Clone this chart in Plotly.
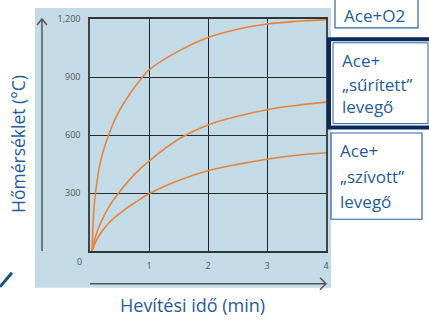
import plotly.graph_objects as go

# ---- data ----
t_o2 = [0.035, 0.065, 0.093, 0.18, 0.32, 0.49, 0.89, 1.0, 1.5, 2.0, 2.5, 3.0, 3.5, 4.0]
v_o2 = [0, 210, 300, 466, 603, 722, 900, 937, 1034, 1104, 1147, 1174, 1188, 1197]

t_comp = [0.035, 0.1, 0.2, 0.32, 0.5, 0.75, 1.0, 1.5, 2.0, 2.5, 3.0, 3.5, 4.0]
v_comp = [0, 82, 158, 228, 305, 395, 465, 578, 652, 697, 731, 753, 770]

t_suck = [0.035, 0.1, 0.18, 0.3, 0.43, 0.6, 0.77, 1.0, 1.5, 2.0, 2.5, 3.0, 3.5, 4.0]
v_suck = [0, 50, 92, 138, 176, 217, 252, 296, 365, 415, 448, 475, 495, 508]

x_ticks = [1, 2, 3, 4]
x_ticklabels = ["1", "2", "3", "4"]
y_ticks = [300, 600, 900, 1200]
y_ticklabels = ["300", "600", "900", "1,200"]

series_names = ["Ace+O2", "Ace+ „sűrített” levegő", "Ace+ „szívott” levegő"]

W, H = 429, 322
L, R, T, B = 90, 103, 17, 71
PW, PH = W - L - R, H - T - B


def X(px):
    return (px - L) / PW


def Y(py):
    return (H - B - py) / PH


ORANGE = "#e8843a"
BLUE_TXT = "#1f5c9c"
FONT = "Open Sans"

fig = go.Figure()
for t, v, n in zip([t_o2, t_comp, t_suck], [v_o2, v_comp, v_suck], series_names):
    fig.add_trace(go.Scatter(x=t, y=v, mode="lines", name=n,
                             line=dict(color=ORANGE, width=1.6, shape="spline", smoothing=1.0),
                             showlegend=False, hoverinfo="skip"))

shapes = []
# light blue panel
shapes.append(dict(type="rect", xref="paper", yref="paper", layer="below",
                   x0=X(35), x1=X(331), y0=Y(288), y1=Y(6),
                   fillcolor="#c3dbe7", line=dict(width=0)))
# y arrow
shapes.append(dict(type="line", xref="paper", yref="paper", x0=X(42), x1=X(42), y0=Y(251), y1=Y(17),
                   line=dict(color="#555", width=1.5)))
shapes.append(dict(type="path", xref="paper", yref="paper",
                   path=f"M {X(37)},{Y(23)} L {X(42)},{Y(17)} L {X(47)},{Y(23)}",
                   line=dict(color="#555", width=1.5)))
# x arrow
shapes.append(dict(type="line", xref="paper", yref="paper", x0=X(90), x1=X(326), y0=Y(284), y1=Y(284),
                   line=dict(color="#555", width=1.5)))
shapes.append(dict(type="path", xref="paper", yref="paper",
                   path=f"M {X(320)},{Y(278)} L {X(326)},{Y(284)} L {X(320)},{Y(290)}",
                   line=dict(color="#555", width=1.5)))
# decorative stroke bottom-left
shapes.append(dict(type="line", xref="paper", yref="paper", x0=X(0), x1=X(12), y0=Y(287), y1=Y(273),
                   line=dict(color="#1d4f8c", width=3)))
# legend boxes
shapes.append(dict(type="rect", xref="paper", yref="paper", x0=X(335), x1=X(418), y0=Y(26), y1=Y(-3),
                   fillcolor="white", line=dict(color="#2a64a0", width=1.2)))
shapes.append(dict(type="rect", xref="paper", yref="paper", x0=X(329), x1=X(434), y0=Y(126.5), y1=Y(37.5),
                   fillcolor="white", line=dict(color="#0b2a5c", width=4)))
shapes.append(dict(type="rect", xref="paper", yref="paper", x0=X(333), x1=X(428), y0=Y(122.5), y1=Y(41),
                   fillcolor="rgba(0,0,0,0)", line=dict(color="#2a64a0", width=1)))
shapes.append(dict(type="rect", xref="paper", yref="paper", x0=X(331), x1=X(422), y0=Y(219), y1=Y(132),
                   fillcolor="white", line=dict(color="#2a64a0", width=1.2)))

annotations = []


def txt(s, px, py, size=16, color=BLUE_TXT, xanchor="left", angle=0):
    annotations.append(dict(text=s, xref="paper", yref="paper", x=X(px), y=Y(py), showarrow=False,
                            xanchor=xanchor, yanchor="middle", textangle=angle,
                            font=dict(family=FONT, size=size, color=color)))


txt("Ace+O2", 342, 13, size=17)
txt("Ace+", 340, 59, size=17)
txt("„sűrített”", 340, 83, size=17)
txt("levegő", 340, 105, size=17)
txt("Ace+", 338, 150, size=17)
txt("„szívott”", 338, 176, size=17)
txt("levegő", 338, 201, size=17)
txt("Hőmérséklet (°C)", 18, 143, size=17.5, xanchor="center", angle=-90)
txt("Hevítési idő (min)", 192, 305, size=18, xanchor="center")
txt("0", 79, 262, size=9, color="#555", xanchor="center")

fig.update_layout(
    width=W, height=H,
    margin=dict(l=L, r=R, t=T, b=B, pad=0),
    paper_bgcolor="white", plot_bgcolor="rgba(0,0,0,0)",
    shapes=shapes, annotations=annotations,
    font=dict(family=FONT),
)
fig.update_xaxes(range=[0, 4], tickvals=x_ticks, ticktext=x_ticklabels, showgrid=True,
                 gridcolor="#222", gridwidth=1.2, zeroline=False, showline=True, mirror=True,
                 linecolor="#333", linewidth=1.5, ticks="", ticklabelstandoff=5,
                 tickfont=dict(size=9, color="#555", family=FONT))
fig.update_yaxes(range=[0, 1200], tickvals=y_ticks, ticktext=y_ticklabels, showgrid=True,
                 gridcolor="#2a2a2a", gridwidth=1.2, zeroline=False, showline=True, mirror=True,
                 linecolor="#444", linewidth=1.5, ticks="", ticklabelstandoff=6,
                 tickfont=dict(size=9, color="#555", family=FONT))

fig.write_html("out.html", config={"displayModeBar": False},
               post_script="document.body.style.margin='0';document.body.style.overflow='hidden';")
